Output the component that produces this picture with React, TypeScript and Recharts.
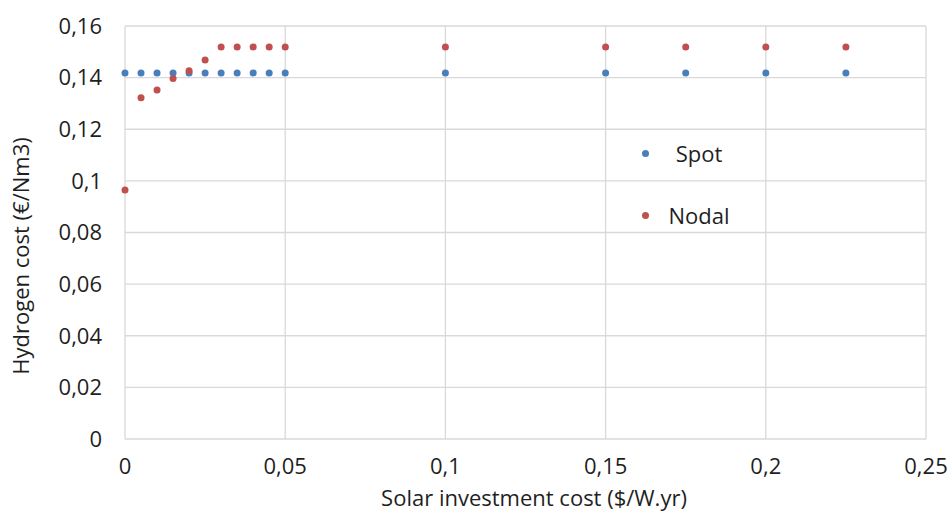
import { ScatterChart, Scatter, XAxis, YAxis, CartesianGrid } from 'recharts';

const xValues = [0, 0.005, 0.01, 0.015, 0.02, 0.025, 0.03, 0.035, 0.04, 0.045, 0.05, 0.1, 0.15, 0.175, 0.2, 0.225];
const spotCost = [0.1418, 0.1418, 0.1418, 0.1418, 0.1418, 0.1418, 0.1418, 0.1418, 0.1418, 0.1418, 0.1418, 0.1418, 0.1418, 0.1418, 0.1418, 0.1418];
const nodalCost = [0.0965, 0.1322, 0.1352, 0.1397, 0.1427, 0.1468, 0.1519, 0.1519, 0.1519, 0.1519, 0.1519, 0.1519, 0.1519, 0.1519, 0.1519, 0.1519];
const xTicks = [0, 0.05, 0.1, 0.15, 0.2, 0.25];
const yTicks = [0, 0.02, 0.04, 0.06, 0.08, 0.1, 0.12, 0.14, 0.16];

const BLUE = '#4a7ebb';
const RED = '#c0504d';
const FONT = '"Open Sans", sans-serif';
const TEXT = '#1f1f1f';
const FS = 22;

const spotData = xValues.map((x, i) => ({ x, y: spotCost[i] }));
const nodalData = xValues.map((x, i) => ({ x, y: nodalCost[i] }));

const fmt = (v: number) => String(v).replace('.', ',');

const dot = (color: string) => (props: any) => (
    <circle cx={props.cx} cy={props.cy} r={3.5} fill={color} />
);

function LegendBox() {
    const items = [
        { name: 'Spot', color: BLUE },
        { name: 'Nodal', color: RED },
    ];
    return (
        <div style={{ position: 'absolute', left: 642, top: 122, fontFamily: FONT, fontSize: FS, color: TEXT }}>
            {items.map((it) => (
                <div key={it.name} style={{ display: 'flex', alignItems: 'center', height: 62 }}>
                    <span style={{ width: 7, height: 7, borderRadius: '50%', background: it.color, display: 'inline-block' }} />
                    <span style={{ width: 100, textAlign: 'center' }}>{it.name}</span>
                </div>
            ))}
        </div>
    );
}

export default function App() {
    return (
        <div style={{ position: 'absolute', left: 0, top: 0, width: 952, height: 511, background: '#fff' }}>
            <ScatterChart width={952} height={511} margin={{ top: 26, right: 26, left: 0, bottom: 0 }}>
                <CartesianGrid stroke="#d9d9d9" strokeWidth={1.3} horizontalValues={yTicks} verticalValues={xTicks} />
                <XAxis
                    type="number"
                    dataKey="x"
                    domain={[0, 0.25]}
                    ticks={xTicks}
                    tickFormatter={fmt}
                    axisLine={false}
                    tickLine={false}
                    height={72}
                    tickMargin={13}
                    tick={{ fill: TEXT, fontSize: FS, fontFamily: FONT }}
                    label={{
                        content: () => (
                            <text x={534} y={506} textAnchor="middle" fill={TEXT} fontSize={FS} fontFamily={FONT}>
                                Solar investment cost ($/W.yr)
                            </text>
                        ),
                    }}
                />
                <YAxis
                    type="number"
                    dataKey="y"
                    domain={[0, 0.16]}
                    ticks={yTicks}
                    tickFormatter={fmt}
                    axisLine={false}
                    tickLine={false}
                    width={125}
                    tickMargin={17}
                    tick={{ fill: TEXT, fontSize: FS, fontFamily: FONT }}
                    label={{
                        content: () => (
                            <text
                                x={29}
                                y={256}
                                transform="rotate(-90 29 256)"
                                textAnchor="middle"
                                fill={TEXT}
                                fontSize={FS}
                                fontFamily={FONT}
                            >
                                Hydrogen cost (€/Nm3)
                            </text>
                        ),
                    }}
                />
                <Scatter name="Spot" data={spotData} fill={BLUE} shape={dot(BLUE)} isAnimationActive={false} />
                <Scatter name="Nodal" data={nodalData} fill={RED} shape={dot(RED)} isAnimationActive={false} />
            </ScatterChart>
            <LegendBox />
        </div>
    );
}
